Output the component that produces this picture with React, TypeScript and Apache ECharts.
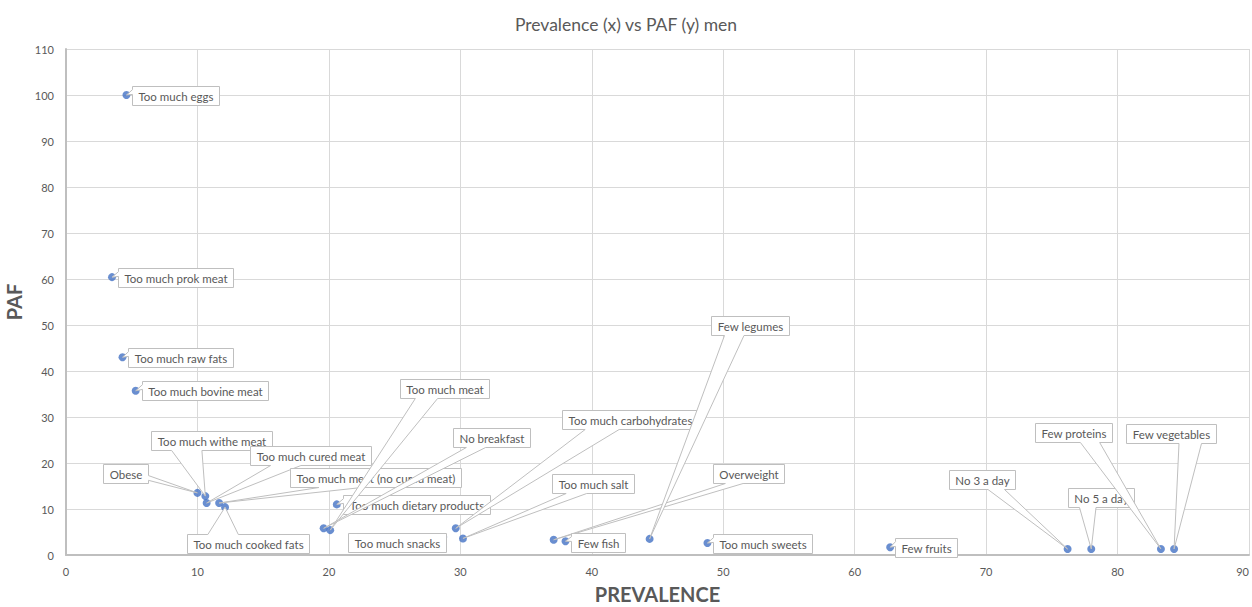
import React, { useEffect, useRef } from "react";
import * as echarts from "echarts";

const labels = [
  "Too much eggs",
  "Too much prok meat",
  "Too much raw fats",
  "Too much bovine meat",
  "Obese",
  "Too much withe meat",
  "Too much cured meat",
  "Too much meat (no cured meat)",
  "Too much cooked fats",
  "Too much dietary products",
  "Too much meat",
  "No breakfast",
  "Too much snacks",
  "Too much carbohydrates",
  "Too much salt",
  "Overweight",
  "Few fish",
  "Few legumes",
  "Too much sweets",
  "Few fruits",
  "No 3 a day",
  "No 5 a day",
  "Few proteins",
  "Few vegetables",
];

const prevalence = [
  4.6, 3.5, 4.3, 5.3, 10.0, 10.6, 10.7, 11.65, 12.1, 20.6, 20.1, 19.6, 28.7,
  29.65, 30.2, 37.1, 38.0, 44.4, 48.8, 62.7, 76.2, 78.0, 83.3, 84.3,
];

const paf = [
  100, 60.4, 43.0, 35.7, 13.5, 12.8, 11.3, 11.3, 10.4, 11.0, 5.4, 5.8, 3.9,
  5.8, 3.6, 3.3, 3.0, 3.5, 2.6, 1.7, 1.3, 1.3, 1.3, 1.3,
];

// pixel offset of each callout box centre from its point
const calloutOffsets: [number, number][] = [
  [49, 0],
  [63, 0],
  [58, 0],
  [69, 0],
  [-72, -19],
  [6.5, -55.5],
  [104, -48],
  [156.5, -26],
  [22.5, 36],
  [79.5, 0.5],
  [114.5, -141.5],
  [167.5, -91],
  [-46, 5],
  [174.5, -109],
  [130.5, -55],
  [195, -66.5],
  [32.5, 1.5],
  [100.5, -213.5],
  [55, 0.5],
  [35.5, 0.5],
  [-86, -69.5],
  [9.5, -52],
  [-87, -117],
  [-3.5, -116],
];

const FONT = "Lato, 'Open Sans', sans-serif";
const LABEL_SIZE = 11.5;

let ctx: CanvasRenderingContext2D | null = null;
function measure(text: string): number {
  if (!ctx) ctx = document.createElement("canvas").getContext("2d");
  if (!ctx) return text.length * 6;
  ctx.font = `${LABEL_SIZE}px ${FONT}`;
  return ctx.measureText(text).width;
}

function calloutPoints(bx: number, by: number, w: number, h: number, px: number, py: number) {
  const hc = bx + w / 2;
  const vc = by + h / 2;
  const dxPos = px - hc;
  const dyPos = py - vc;
  const r = bx + w;
  const b = by + h;
  if (Math.abs(dxPos) <= w / 2 && Math.abs(dyPos) <= h / 2) {
    return [[bx, by], [r, by], [r, b], [bx, b]];
  }
  const dq = (dxPos * h) / w;
  const dz = Math.abs(dyPos) - Math.abs(dq);
  const x1 = bx + (w * (dxPos > 0 ? 7 : 2)) / 12;
  const x2 = bx + (w * (dxPos > 0 ? 10 : 5)) / 12;
  const y1 = by + (h * (dyPos > 0 ? 7 : 2)) / 12;
  const y2 = by + (h * (dyPos > 0 ? 10 : 5)) / 12;
  let edge: string;
  if (dz > 0) edge = dyPos < 0 ? "top" : "bottom";
  else edge = dxPos < 0 ? "left" : "right";
  const pts: number[][] = [[bx, by]];
  if (edge === "top") pts.push([x1, by], [px, py], [x2, by]);
  pts.push([r, by]);
  if (edge === "right") pts.push([r, y1], [px, py], [r, y2]);
  pts.push([r, b]);
  if (edge === "bottom") pts.push([x2, b], [px, py], [x1, b]);
  pts.push([bx, b]);
  if (edge === "left") pts.push([bx, y2], [px, py], [bx, y1]);
  return pts;
}

export default function App() {
  const ref = useRef<HTMLDivElement>(null);
  useEffect(() => {
    if (!ref.current) return;
    const chart = echarts.init(ref.current, null, { renderer: "svg" });
    const points = prevalence.map((x, i) => [x, paf[i], i]);
    chart.setOption({
      animation: false,
      title: {
        text: "Prevalence (x) vs PAF (y) men",
        left: "center",
        top: 10,
        textStyle: { fontFamily: FONT, fontSize: 17.5, fontWeight: "normal", color: "#595959" },
      },
      grid: { left: 66, right: 3, top: 49, bottom: 52, containLabel: false, outerBoundsMode: "none" },
      xAxis: {
        type: "value",
        min: 0,
        max: 90,
        interval: 10,
        name: "PREVALENCE",
        nameLocation: "middle",
        nameGap: 29,
        nameTextStyle: { fontFamily: FONT, fontSize: 20, fontWeight: "bold", color: "#595959" },
        axisLine: { show: true, lineStyle: { color: "#bfbfbf", width: 2 } },
        axisTick: { show: false },
        axisLabel: { margin: 11, fontFamily: FONT, fontSize: 11, color: "#595959", alignMaxLabel: "right" },
        splitLine: { show: true, lineStyle: { color: "#d9d9d9", width: 1 } },
      },
      yAxis: {
        type: "value",
        min: 0,
        max: 110,
        interval: 10,
        name: "PAF",
        nameLocation: "middle",
        nameGap: 38,
        nameTextStyle: { fontFamily: FONT, fontSize: 20, fontWeight: "bold", color: "#595959" },
        axisLine: { show: true, lineStyle: { color: "#bfbfbf", width: 2 } },
        axisTick: { show: false },
        axisLabel: { margin: 12, fontFamily: FONT, fontSize: 11, color: "#595959" },
        splitLine: { show: true, lineStyle: { color: "#d9d9d9", width: 1 } },
      },
      series: [
        {
          type: "scatter",
          data: points,
          symbolSize: 8,
          itemStyle: { color: "#4472C4" },
          z: 2,
        },
        {
          type: "custom",
          data: points,
          z: 3,
          clip: false,
          renderItem: (params: any, api: any) => {
            const i = api.value(2);
            const pt = api.coord([api.value(0), api.value(1)]);
            const px = pt[0];
            const py = pt[1];
            const text = labels[i];
            const w = Math.round(measure(text) + 12);
            const h = 19;
            const off = calloutOffsets[i];
            const cx = px + off[0];
            const cy = py + off[1];
            const bx = Math.round(cx - w / 2) + 0.5;
            const by = Math.round(cy - h / 2) + 0.5;
            return {
              type: "group",
              children: [
                {
                  type: "polygon",
                  shape: { points: calloutPoints(bx, by, w, h, px, py) },
                  style: { fill: "#ffffff", stroke: "#bfbfbf", lineWidth: 1 },
                },
                {
                  type: "text",
                  style: {
                    text,
                    x: bx + w / 2,
                    y: by + h / 2,
                    align: "center",
                    verticalAlign: "middle",
                    fill: "#595959",
                    fontSize: LABEL_SIZE,
                    fontFamily: FONT,
                  },
                },
              ],
            };
          },
        },
      ],
    });
    return () => chart.dispose();
  }, []);
  return (
    <div
      ref={ref}
      style={{ position: "fixed", left: 0, top: 0, width: 1252, height: 607, background: "#ffffff" }}
    />
  );
}
